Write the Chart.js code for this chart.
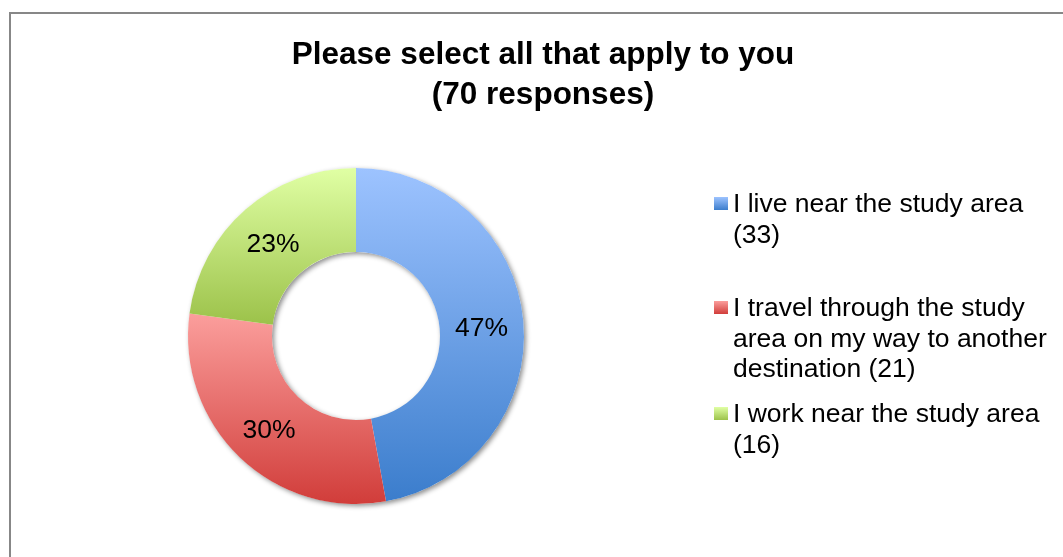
<!DOCTYPE html>
<html>
<head>
<meta charset="utf-8">
<script src="https://cdn.jsdelivr.net/npm/chart.js@4/dist/chart.umd.min.js"></script>
<style>
  html, body { margin: 0; padding: 0; background: #fff; overflow: hidden; }
  body { width: 1063px; height: 557px; position: relative; font-family: 'Liberation Sans', Arial, sans-serif; }
  #frame { position: absolute; left: 9px; top: 12px; width: 1100px; height: 600px; border: 2px solid #878787; box-sizing: border-box; }
  #chart { position: absolute; left: 0; top: 0; }
  #title { position: absolute; left: 10px; width: 1066px; top: 33px; text-align: center;
           font-weight: bold; font-size: 31.5px; line-height: 40px; color: #000; }
  #legend { position: absolute; left: 0; top: 0; }
  .item { position: absolute; left: 714px; width: 340px; font-size: 26.5px; line-height: 30.5px; color: #000; }
  .item .box { position: absolute; left: 0; top: 9px; width: 14px; height: 13px; }
  .item .txt { position: absolute; left: 19px; width: 322px; }
</style>
</head>
<body>
<div id="frame"></div>
<canvas id="chart" width="1063" height="557"></canvas>
<div id="title">Please select all that apply to you<br>(70 responses)</div>
<div id="legend"></div>
<script>
// Дані діаграми
const categories = [
    'I live near the study area',
    'I travel through the study area on my way to another destination',
    'I work near the study area'
];
const responses = [33, 21, 16];

// Кольори: світлий верх / темний низ кожного сектора
const topColors = ['#9dc3ff', '#fb9e9c', '#e0ffa4'];
const bottomColors = ['#3b7dcc', '#d13d3a', '#9cc24a'];

const legendTops = [188, 292, 398];

document.addEventListener('DOMContentLoaded', function () {
    const total = responses.reduce((a, b) => a + b, 0);

    // вертикальна межа сектора, щоб градієнт йшов по його висоті
    function sliceExtent(area, i) {
        const cy = (area.top + area.bottom) / 2;
        const R = Math.min(area.right - area.left, area.bottom - area.top) / 2;
        const r = R * 0.5;
        let start = 0;
        for (let k = 0; k < i; k++) start += responses[k];
        const a0 = -Math.PI / 2 + start / total * Math.PI * 2;
        const a1 = a0 + responses[i] / total * Math.PI * 2;
        const ys = [cy + R * Math.sin(a0), cy + R * Math.sin(a1), cy + r * Math.sin(a0), cy + r * Math.sin(a1)];
        [-Math.PI / 2, Math.PI / 2, Math.PI * 1.5].forEach(a => {
            if (a >= a0 && a <= a1) ys.push(cy + R * Math.sin(a));
        });
        return [Math.min(...ys), Math.max(...ys)];
    }

    const ringShadow = {
        id: 'ringShadow',
        beforeDatasetsDraw(chart) {
            const arc = chart.getDatasetMeta(0).data[0];
            if (!arc) return;
            const c = chart.ctx;
            c.save();
            c.shadowColor = 'rgba(0,0,0,0.45)';
            c.shadowBlur = 5;
            c.shadowOffsetX = 2;
            c.shadowOffsetY = 2;
            c.fillStyle = '#ffffff';
            c.beginPath();
            c.arc(arc.x, arc.y, arc.outerRadius, 0, Math.PI * 2);
            c.arc(arc.x, arc.y, arc.innerRadius, 0, Math.PI * 2, true);
            c.fill('evenodd');
            c.restore();
        }
    };

    const percentLabels = {
        id: 'percentLabels',
        afterDatasetsDraw(chart) {
            const c = chart.ctx;
            c.save();
            c.font = '26.5px "Liberation Sans", Arial, sans-serif';
            c.fillStyle = '#000';
            c.textAlign = 'center';
            c.textBaseline = 'middle';
            chart.getDatasetMeta(0).data.forEach((arc, i) => {
                const p = arc.getCenterPoint();
                c.fillText(Math.round(responses[i] / total * 100) + '%', p.x, p.y + 4);
            });
            c.restore();
        }
    };

    const ctx = document.getElementById('chart');
    const chart = new Chart(ctx.getContext('2d'), {
        type: 'doughnut',
        data: {
            labels: categories,
            datasets: [{
                data: responses,
                backgroundColor: function (context) {
                    const ch = context.chart;
                    const area = ch.chartArea;
                    const i = context.dataIndex;
                    if (!area || i === undefined) return topColors[i || 0];
                    const [y0, y1] = sliceExtent(area, i);
                    const g = ch.ctx.createLinearGradient(0, y0, 0, y1);
                    g.addColorStop(0, topColors[i]);
                    g.addColorStop(1, bottomColors[i]);
                    return g;
                },
                borderWidth: 0
            }]
        },
        options: {
            responsive: false,
            animation: false,
            devicePixelRatio: 1,
            cutout: '50%',
            layout: {
                padding: { left: 187, right: 538, top: 168, bottom: 53 }
            },
            plugins: {
                legend: { display: false },
                tooltip: { enabled: false }
            }
        },
        plugins: [ringShadow, percentLabels]
    });

    // Легенда праворуч
    const legend = document.getElementById('legend');
    categories.forEach((name, i) => {
        const item = document.createElement('div');
        item.className = 'item';
        item.style.top = legendTops[i] + 'px';
        item.innerHTML = `
            <span class="box" style="background: linear-gradient(${topColors[i]}, ${bottomColors[i]});"></span>
            <span class="txt">${name} (${responses[i]})</span>
        `;
        legend.appendChild(item);
    });
});
</script>
</body>
</html>
